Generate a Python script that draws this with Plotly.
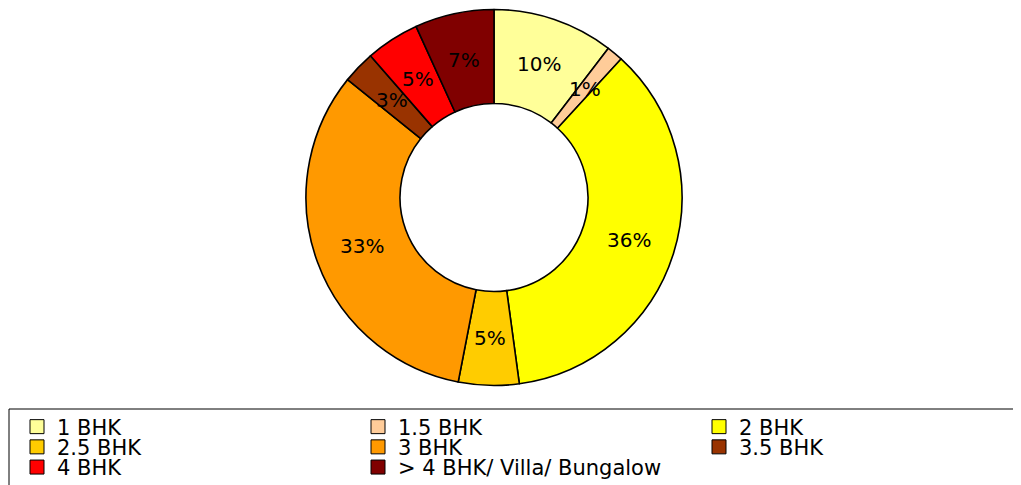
import math
import plotly.graph_objects as go

categories = ["1 BHK", "1.5 BHK", "2 BHK", "2.5 BHK", "3 BHK", "3.5 BHK", "4 BHK", "> 4 BHK/ Villa/ Bungalow"]
shares = [10.4, 1.4, 36.0, 5.2, 32.7, 2.8, 4.6, 6.8]
colors = ["#FFFF99", "#FFCC99", "#FFFF00", "#FFCC00", "#FF9900", "#993300", "#FF0000", "#800000"]
legend_cols = 3  # legend entries fill rows of three, left to right

W, H = 1021, 485
OFF = 8  # page body margin: figure origin sits 8px right/down of the screenshot origin
FONT = "DejaVu Sans, Liberation Sans, Arial, sans-serif"


def fx(px):  # screen x pixel -> paper x
    return (px - OFF) / W


def fy(py):  # screen y pixel -> paper y
    return 1 - (py - OFF) / H


# pie placement (screen pixels)
cx_px, cy_px, R_px = 494, 197.5, 188
dom_x = [fx(cx_px - R_px), fx(cx_px + R_px)]
dom_y = [fy(cy_px + R_px), fy(cy_px - R_px)]

fig = go.Figure()
fig.add_trace(go.Pie(
    labels=categories,
    values=shares,
    sort=False,
    direction="clockwise",
    rotation=0,
    hole=0.5,
    marker=dict(colors=colors, line=dict(color="black", width=1.6)),
    textinfo="none",
    domain=dict(x=dom_x, y=dom_y),
    showlegend=False,
    hoverinfo="label+percent",
))

# legend: one single-entry legend per category, laid out on a 3-column grid
col_step_px, row_step_px = 341, 20.2
leg_x0_px, leg_y0_px = 17, 398.5 + OFF
legend_layouts = {}
for i, (name, col) in enumerate(zip(categories, colors)):
    lname = "legend" if i == 0 else f"legend{i + 1}"
    r, c = divmod(i, legend_cols)
    fig.add_trace(go.Scatter(
        x=[None], y=[None], mode="markers", name=name,
        marker=dict(symbol="square", size=14, color=col, line=dict(color="black", width=1)),
        legend=lname, showlegend=True, hoverinfo="skip",
    ))
    legend_layouts[lname] = dict(
        orientation="h",
        x=fx(leg_x0_px + c * col_step_px), xanchor="left",
        y=fy(leg_y0_px + r * row_step_px), yanchor="top",
        bgcolor="rgba(0,0,0,0)", borderwidth=0,
        font=dict(family=FONT, size=21, color="black"),
        itemclick=False, itemdoubleclick=False,
    )

# percentage labels at mid-ring, computed from data
total = sum(shares)
cum = 0.0
annotations = []
for v in shares:
    mid = (cum + v / 2) / total
    cum += v
    ang = 2 * math.pi * mid
    rr = 0.75 * R_px
    px = cx_px + rr * math.sin(ang)
    py = cy_px - rr * math.cos(ang)
    annotations.append(dict(
        x=fx(px), y=fy(py), xref="paper", yref="paper",
        xanchor="center", yanchor="middle",
        text=f"{int(v / total * 100 + 0.5)}%", showarrow=False,
        font=dict(family=FONT, size=20, color="black"),
    ))

fig.update_layout(
    width=W, height=H,
    margin=dict(l=0, r=0, t=0, b=0, autoexpand=False),
    paper_bgcolor="white",
    plot_bgcolor="rgba(0,0,0,0)",
    xaxis=dict(visible=False),
    yaxis=dict(visible=False),
    annotations=annotations,
    shapes=[dict(
        type="rect", xref="paper", yref="paper",
        x0=fx(9), x1=1.05, y0=-0.1, y1=fy(409),
        line=dict(color="black", width=1), fillcolor="rgba(0,0,0,0)", layer="below",
    )],
    **legend_layouts,
)

fig.write_html("out.html")
